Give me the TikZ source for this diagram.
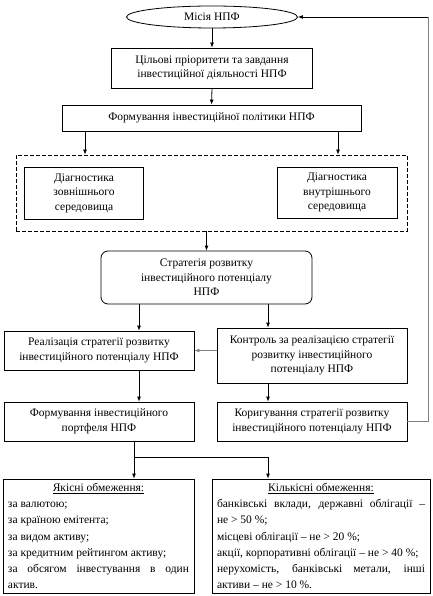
\documentclass[tikz,border=0pt]{standalone}
\usepackage{fontspec}
\setmainfont{Liberation Serif}
\usetikzlibrary{arrows.meta,shapes.geometric}
\begin{document}
\begin{tikzpicture}[x=1pt,y=-1pt,
  every node/.style={font=\fontsize{11.5}{14.5}\selectfont},
  box/.style={draw,line width=0.8pt,inner sep=0pt,align=center},
  listbox/.style={draw,line width=0.8pt,inner xsep=5pt,inner ysep=0pt,align=justify,
     font=\fontsize{11.5}{16.2}\selectfont},
  arr/.style={line width=0.8pt,-{Latex[length=5pt,width=4pt]}},
  ln/.style={line width=0.8pt},
  fbline/.style={line width=0.8pt,draw=gray}]
\useasboundingbox (0,0) rectangle (432,596);
\node[box,ellipse,minimum width=171pt,minimum height=22pt] (mis) at (212,17) {Місія НПФ};
\node[box,minimum width=201pt,minimum height=40pt] (goals) at (212,68)
  {Цільові пріоритети та завдання\\інвестиційної діяльності НПФ};
\node[box,minimum width=299pt,minimum height=26pt] (pol) at (211.5,118)
  {Формування інвестиційної політики НПФ};
\node[box,dash pattern=on 4pt off 2pt,minimum width=391pt,minimum height=76pt] (dash) at (211.5,193) {};
\node[box,minimum width=119pt,minimum height=52pt] (ext) at (84,193)
  {Діагностика\\зовнішнього\\середовища};
\node[box,minimum width=120pt,minimum height=51pt] (int) at (337,192.5)
  {Діагностика\\внутрішнього\\середовища};
\node[box,rounded corners=7pt,minimum width=211pt,minimum height=53pt] (strat) at (206.5,277.5)
  {Стратегія розвитку\\інвестиційного потенціалу\\НПФ};
\node[box,minimum width=190pt,minimum height=39pt] (real) at (99,350.5)
  {Реалізація стратегії розвитку\\інвестиційного потенціалу НПФ};
\node[box,minimum width=190pt,minimum height=55pt] (ctrl) at (312,355.5)
  {Контроль за реалізацією стратегії\\розвитку інвестиційного\\потенціалу НПФ};
\node[box,minimum width=190pt,minimum height=39pt] (port) at (99,421.5)
  {Формування інвестиційного\\портфеля НПФ};
\node[box,minimum width=190pt,minimum height=39pt] (corr) at (312,421.5)
  {Коригування стратегії розвитку\\інвестиційного потенціалу НПФ};
\node[listbox,text width=181pt,minimum height=114pt] (qual) at (98.5,536)
  {\makebox[\linewidth]{\underline{Якісні обмеження:}}\par
   за валютою;\par
   за країною емітента;\par
   за видом активу;\par
   за кредитним рейтингом активу;\par
   за обсягом інвестування в один\linebreak актив.};
\node[listbox,text width=208pt,minimum height=114pt] (quant) at (321,536)
  {\makebox[\linewidth]{\underline{Кількісні обмеження:}}\par
   банківські вклади, державні облігації –\linebreak не > 50 \%;\par
   місцеві облігації – не > 20 \%;\par
   акції, корпоративні облігації – не > 40 \%;\par
   нерухомість, банківські метали, інші\linebreak активи – не > 10 \%.};
\coordinate (fb) at (428,17);
% connectors
\draw[arr] (mis.south) -- (goals.north);
\draw[arr] (goals.south) -- (pol.north);
\draw[arr] ([xshift=-126.5pt]pol.south) -- ([xshift=-126.5pt]pol.south |- dash.north);
\draw[arr] ([xshift=126.5pt]pol.south) -- ([xshift=126.5pt]pol.south |- dash.north);
\draw[arr] (strat.north |- dash.south) -- (strat.north);
\draw[arr] ([xshift=-67.5pt]strat.south) -- ([xshift=-67.5pt]strat.south |- real.north);
\draw[arr] ([xshift=61.5pt]strat.south) -- ([xshift=61.5pt]strat.south |- ctrl.north);
\draw[arr,draw=gray] (ctrl.west |- real.east) -- (real.east);
\draw[arr] ([xshift=40pt]real.south) -- ([xshift=40pt]port.north);
\draw[arr] ([xshift=-44pt]ctrl.south) -- ([xshift=-44pt]corr.north);
\draw[ln] ([xshift=35pt]port.south) -- ++(0,16) coordinate (j);
\draw[arr] (j) -- (j |- qual.north);
\draw[arr] (j) -| ([xshift=-53pt]quant.north);
\draw[fbline] (corr.east) -| (fb);
\draw[arr] (fb) -- (mis.east);
\end{tikzpicture}
\end{document}
